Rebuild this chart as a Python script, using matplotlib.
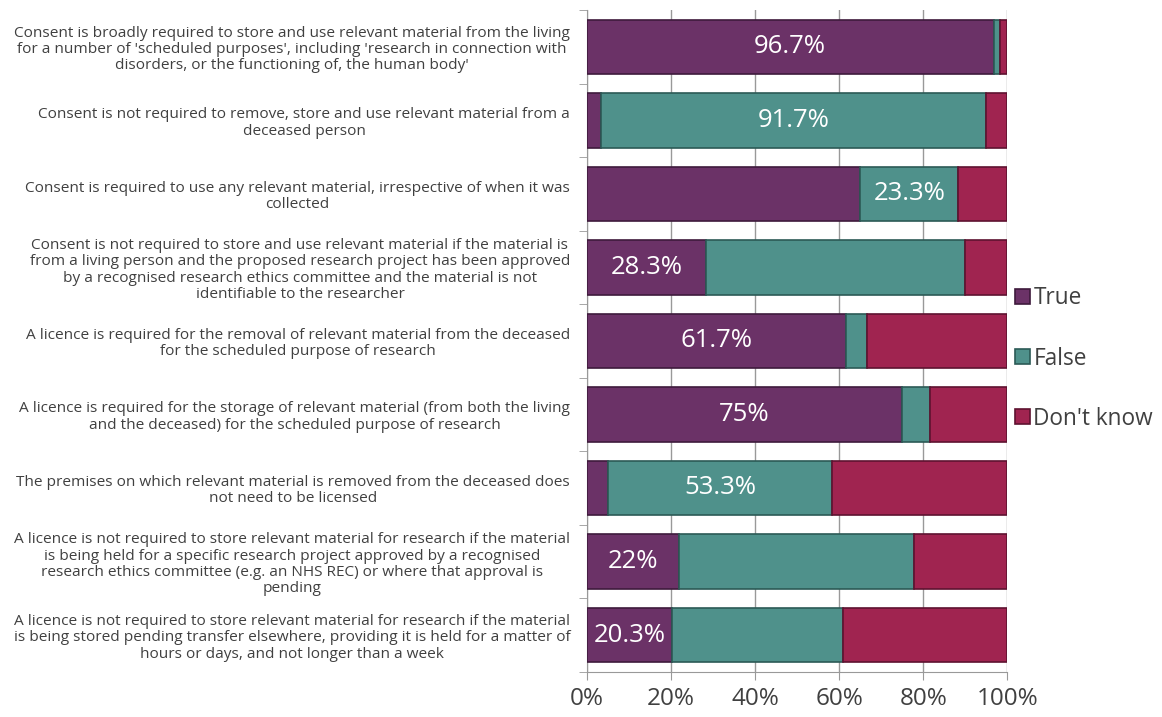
import matplotlib.pyplot as plt
import numpy as np

plt.rcParams['font.family'] = ['Open Sans', 'DejaVu Sans']

statements = [
    "Consent is broadly required to store and use relevant material from the living\nfor a number of 'scheduled purposes', including 'research in connection with\ndisorders, or the functioning of, the human body'",
    "Consent is not required to remove, store and use relevant material from a\ndeceased person",
    "Consent is required to use any relevant material, irrespective of when it was\ncollected",
    "Consent is not required to store and use relevant material if the material is\nfrom a living person and the proposed research project has been approved\nby a recognised research ethics committee and the material is not\nidentifiable to the researcher",
    "A licence is required for the removal of relevant material from the deceased\nfor the scheduled purpose of research",
    "A licence is required for the storage of relevant material (from both the living\nand the deceased) for the scheduled purpose of research",
    "The premises on which relevant material is removed from the deceased does\nnot need to be licensed",
    "A licence is not required to store relevant material for research if the material\nis being held for a specific research project approved by a recognised\nresearch ethics committee (e.g. an NHS REC) or where that approval is\npending",
    "A licence is not required to store relevant material for research if the material\nis being stored pending transfer elsewhere, providing it is held for a matter of\nhours or days, and not longer than a week",
]
true_pct = [96.7, 3.3, 65.0, 28.3, 61.7, 75.0, 5.0, 22.0, 20.3]
false_pct = [1.6, 91.7, 23.3, 61.7, 5.0, 6.7, 53.3, 55.9, 40.7]
dk_pct = [1.7, 5.0, 11.7, 10.0, 33.3, 18.3, 41.7, 22.1, 39.0]
# which segment carries the value label (0 True, 1 False, 2 Don't know)
label_seg = [0, 1, 1, 0, 0, 0, 1, 0, 0]
label_txt = ["96.7%", "91.7%", "23.3%", "28.3%", "61.7%", "75%", "53.3%", "22%", "20.3%"]

series = ["True", "False", "Don't know"]
colors = ["#6b3267", "#4f918b", "#a02450"]
edges = ["#3e1a3c", "#2c5a56", "#5e1230"]

fig = plt.figure(figsize=(11.62, 7.17), dpi=100)
ax = fig.add_axes([0.505, 0.063, 0.362, 0.923])

y = np.arange(len(statements))
vals = [np.array(true_pct), np.array(false_pct), np.array(dk_pct)]
left = np.zeros(len(statements))
handles = []
for v, c, e, name in zip(vals, colors, edges, series):
    b = ax.barh(y, v, left=left, height=0.74, color=c, edgecolor=e, linewidth=1.2,
                label=name, zorder=3)
    handles.append(b)
    left = left + v

for i, (seg, txt) in enumerate(zip(label_seg, label_txt)):
    start = sum(vals[k][i] for k in range(seg))
    ax.text(start + vals[seg][i] / 2, i, txt, ha='center', va='center',
            color='white', fontsize=18.5, zorder=4)

ax.set_xlim(0, 100)
ax.set_ylim(len(statements) - 0.5, -0.5)
ax.set_xticks(range(0, 101, 20))
ax.set_xticklabels([f"{t}%" for t in range(0, 101, 20)], fontsize=17.5, color='#404040')
ax.set_yticks(y)
ax.set_yticklabels(statements, fontsize=11.1, color='#404040', ha='right',
                   multialignment='center', linespacing=1.12)
ax.set_yticks(np.arange(-0.5, len(statements), 1), minor=True)
ax.tick_params(axis='y', which='major', length=0, pad=12)
ax.tick_params(axis='y', which='minor', length=6, color='#999999')
ax.tick_params(axis='x', length=6, color='#999999', pad=5)
ax.grid(axis='x', color='#999999', linewidth=1, zorder=0)
for s in ['top', 'right']:
    ax.spines[s].set_visible(False)
for s in ['left', 'bottom']:
    ax.spines[s].set_color('#999999')

fig.legend(handles=handles, labels=series, loc='center left', bbox_to_anchor=(0.866, 0.5),
           frameon=False, fontsize=16.3, handlelength=0.65, handleheight=0.65,
           handletextpad=0.15, labelspacing=1.6, borderaxespad=0, labelcolor='#404040')

fig.savefig("out.png", dpi=100)
